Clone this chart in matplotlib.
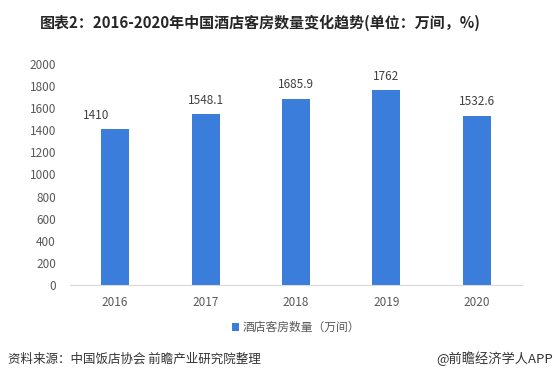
import numpy as np
import matplotlib.pyplot as plt

plt.rcParams['font.family'] = ['Noto Sans CJK SC', 'DejaVu Sans']

years = ["2016", "2017", "2018", "2019", "2020"]
rooms = [1410, 1548.1, 1685.9, 1762, 1532.6]
value_labels = ["1410", "1548.1", "1685.9", "1762", "1532.6"]
yticks = [0, 200, 400, 600, 800, 1000, 1200, 1400, 1600, 1800, 2000]

bar_color = "#3b7ddb"
text_gray = "#595959"

fig = plt.figure(figsize=(5.59, 3.81), dpi=100)
ax = fig.add_axes([0.125, 0.252, 0.809, 0.58])

x = np.arange(len(years))
ax.bar(x, rooms, width=0.31, color=bar_color, label="酒店客房数量（万间）")

# подписи значений над столбцами (первая в оригинале сдвинута влево)
label_dx = [-0.21, 0, 0, 0, 0]
for xi, v, lab, dx in zip(x, rooms, value_labels, label_dx):
    ax.text(xi + dx, v + 125, lab, ha="center", va="center", fontsize=8.5, color="#404040")

ax.set_xlim(-0.5, 4.5)
ax.set_ylim(0, 2000)
ax.set_xticks(x)
ax.set_xticklabels(years, fontsize=8.5, color=text_gray)
ax.set_yticks(yticks)
ax.set_yticklabels([str(t) for t in yticks], fontsize=8.5, color=text_gray)
ax.tick_params(axis="both", length=0)
ax.tick_params(axis="y", pad=10)
ax.tick_params(axis="x", pad=8)

for side in ["top", "right", "left"]:
    ax.spines[side].set_visible(False)
ax.spines["bottom"].set_color("#d9d9d9")

ax.legend(loc="upper center", bbox_to_anchor=(0.5, -0.115), frameon=False,
          fontsize=8.5, handlelength=0.6, handleheight=0.6, handletextpad=0.3,
          labelcolor=text_gray)

fig.text(0.466, 0.94, "图表2：2016-2020年中国酒店客房数量变化趋势(单位：万间，%)",
         ha="center", va="center", fontsize=10.8, fontweight="bold", color="#262626")
fig.text(0.014, 0.058, "资料来源：中国饭店协会 前瞻产业研究院整理",
         ha="left", va="center", fontsize=9, color="#333333")
fig.text(0.99, 0.058, "@前瞻经济学人APP",
         ha="right", va="center", fontsize=9.5, color="#333333")

fig.savefig("out.png", dpi=100)
